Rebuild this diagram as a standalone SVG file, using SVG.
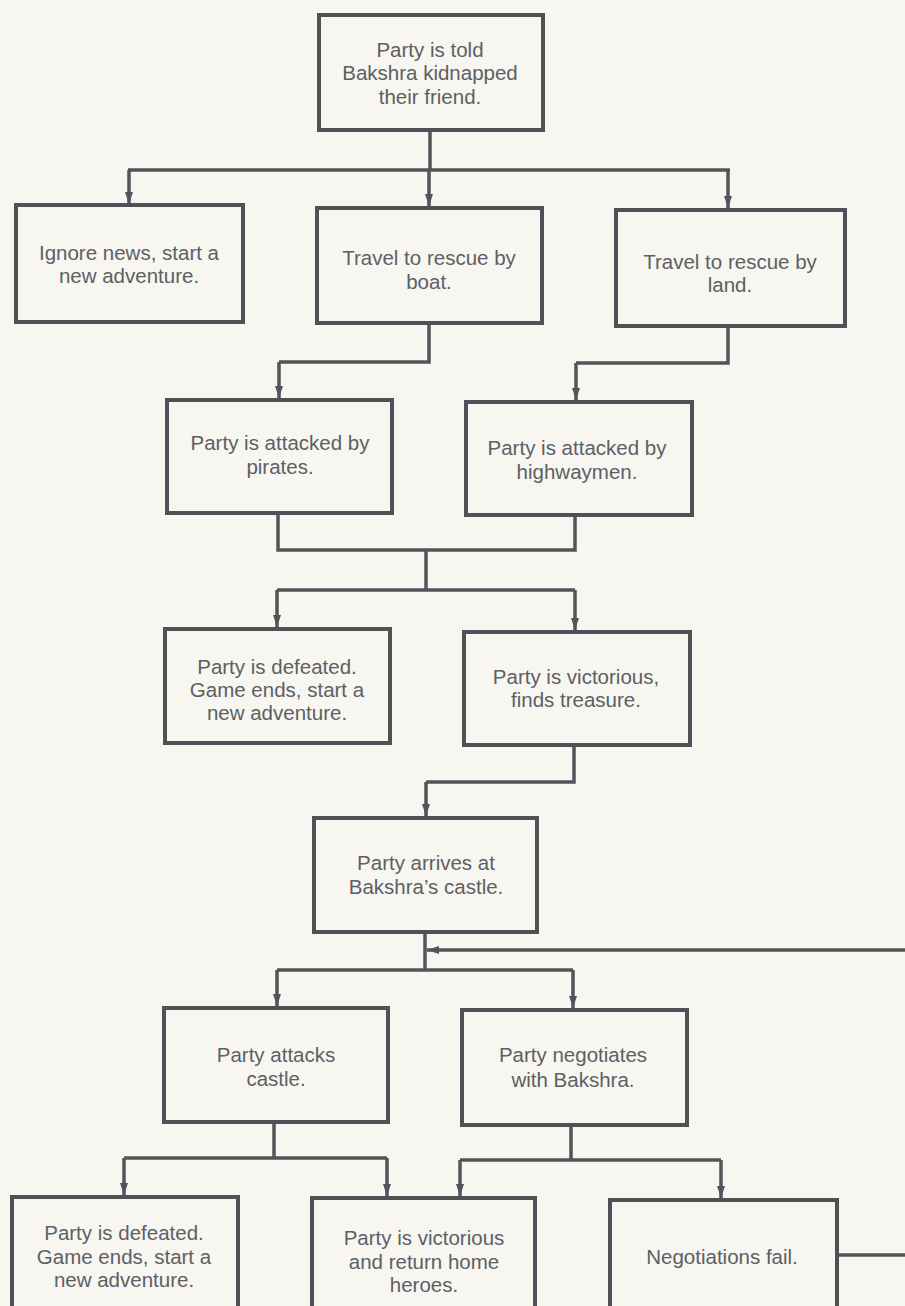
<svg xmlns="http://www.w3.org/2000/svg" width="905" height="1306" viewBox="0 0 905 1306">
<defs>
<marker id="ah" markerUnits="userSpaceOnUse" markerWidth="13" markerHeight="9" refX="12" refY="4" orient="auto">
<path d="M0,0 L12,4 L0,8 z" fill="#50555a"/>
</marker>
<style>
.box{fill:none;stroke:#4d5257;stroke-width:4}
.t{font-family:"Liberation Sans",Arial,sans-serif;font-size:20.5px;fill:#5c6064;text-anchor:middle}
.c{fill:none;stroke:#50555a;stroke-width:3.5;stroke-linejoin:miter}
.a{marker-end:url(#ah)}
</style>
</defs>
<rect width="905" height="1306" fill="#f7f6f1"/>
<g id="connectors">
<path class="c" d="M430,130 V170"/>
<path class="c" d="M128,170 H730"/>
<path class="c a" d="M129,170 V204"/>
<path class="c a" d="M429,170 V206"/>
<path class="c a" d="M728,170 V208"/>
<path class="c" d="M429,323 V362 H279"/>
<path class="c a" d="M279,362 V398"/>
<path class="c" d="M728,326 V363 H576"/>
<path class="c a" d="M576,363 V400"/>
<path class="c" d="M278,513 V550 H575 V515"/>
<path class="c" d="M426,550 V590"/>
<path class="c" d="M277,590 H575"/>
<path class="c a" d="M277,590 V627"/>
<path class="c a" d="M575,590 V630"/>
<path class="c" d="M574,745 V782 H426"/>
<path class="c a" d="M426,782 V816"/>
<path class="c" d="M425,932 V970"/>
<path class="c" d="M277,970 H573"/>
<path class="c a" d="M277,970 V1006"/>
<path class="c a" d="M573,970 V1008"/>
<path class="c a" d="M837,1255 H910 V950 H427"/>
<path class="c" d="M274,1122 V1158"/>
<path class="c" d="M124,1158 H387"/>
<path class="c a" d="M124,1158 V1195"/>
<path class="c a" d="M387,1158 V1196"/>
<path class="c" d="M571,1125 V1160"/>
<path class="c" d="M460,1160 H721"/>
<path class="c a" d="M460,1160 V1196"/>
<path class="c a" d="M721,1160 V1198"/>
</g>
<g id="n1"><rect class="box" x="319" y="15" width="224" height="115"/>
<text class="t" x="430" y="57">Party is told</text><text class="t" x="430" y="80">Bakshra kidnapped</text><text class="t" x="430" y="104">their friend.</text></g>
<g id="n2"><rect class="box" x="16" y="205" width="227" height="117"/>
<text class="t" x="129" y="260">Ignore news, start a</text><text class="t" x="129" y="283">new adventure.</text></g>
<g id="n3"><rect class="box" x="317" y="208" width="225" height="115"/>
<text class="t" x="429" y="265">Travel to rescue by</text><text class="t" x="429" y="289">boat.</text></g>
<g id="n4"><rect class="box" x="616" y="210" width="229" height="116"/>
<text class="t" x="730" y="269">Travel to rescue by</text><text class="t" x="730" y="292">land.</text></g>
<g id="n5"><rect class="box" x="167" y="400" width="225" height="113"/>
<text class="t" x="280" y="450">Party is attacked by</text><text class="t" x="280" y="474">pirates.</text></g>
<g id="n6"><rect class="box" x="466" y="402" width="226" height="113"/>
<text class="t" x="577" y="455">Party is attacked by</text><text class="t" x="577" y="479">highwaymen.</text></g>
<g id="n7"><rect class="box" x="165" y="629" width="225" height="114"/>
<text class="t" x="277" y="674">Party is defeated.</text><text class="t" x="277" y="697">Game ends, start a</text><text class="t" x="277" y="720">new adventure.</text></g>
<g id="n8"><rect class="box" x="464" y="632" width="226" height="113"/>
<text class="t" x="576" y="684">Party is victorious,</text><text class="t" x="576" y="707">finds treasure.</text></g>
<g id="n9"><rect class="box" x="314" y="818" width="223" height="114"/>
<text class="t" x="426" y="870">Party arrives at</text><text class="t" x="426" y="894">Bakshra’s castle.</text></g>
<g id="n10"><rect class="box" x="164" y="1008" width="224" height="114"/>
<text class="t" x="276" y="1062">Party attacks</text><text class="t" x="276" y="1086">castle.</text></g>
<g id="n11"><rect class="box" x="462" y="1010" width="225" height="115"/>
<text class="t" x="573" y="1062">Party negotiates</text><text class="t" x="573" y="1087">with Bakshra.</text></g>
<g id="n12"><rect class="box" x="12" y="1197" width="226" height="130"/>
<text class="t" x="124" y="1240">Party is defeated.</text><text class="t" x="124" y="1264">Game ends, start a</text><text class="t" x="124" y="1287">new adventure.</text></g>
<g id="n13"><rect class="box" x="312" y="1198" width="223" height="130"/>
<text class="t" x="424" y="1245">Party is victorious</text><text class="t" x="424" y="1269">and return home</text><text class="t" x="424" y="1292">heroes.</text></g>
<g id="n14"><rect class="box" x="610" y="1200" width="227" height="130"/>
<text class="t" x="722" y="1264">Negotiations fail.</text></g>
</svg>
